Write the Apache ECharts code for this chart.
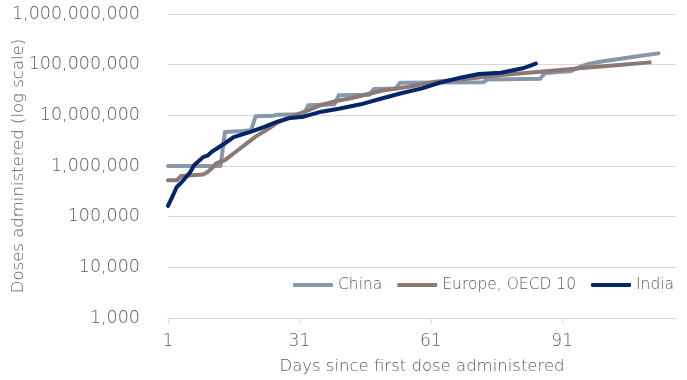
<!DOCTYPE html>
<html>
<head>
<meta charset="utf-8">
<script src="https://cdn.jsdelivr.net/npm/echarts@6/dist/echarts.min.js"></script>
<style>
  html, body { margin: 0; padding: 0; background: #ffffff; }
  #chart { width: 687px; height: 380px; }
</style>
</head>
<body>
<div id="chart"></div>
<script>
// Cumulative vaccine doses administered, by days since first dose
const seriesNames = ['China', 'Europe, OECD 10', 'India'];

const chinaDays  = [1, 13, 14, 18, 20, 21, 25, 26, 32, 33, 39, 40, 47, 48, 53, 54, 73, 74, 86, 87, 90, 93, 95, 97, 100, 104, 109, 113];
const chinaDoses = [1.0e6, 1.0e6, 4.7e6, 4.9e6, 5.1e6, 9.6e6, 9.8e6, 10.3e6, 10.5e6, 15.8e6, 16.5e6, 25e6, 25.5e6, 33e6, 34e6, 44e6, 45e6, 51e6, 53e6, 68e6, 72e6, 74e6, 90e6, 103e6, 115e6, 129e6, 150e6, 167e6];

const europeDays  = [1, 3, 4, 9, 10, 11, 12, 14, 17, 19, 21, 24, 26, 29, 33, 36, 40, 43, 50, 56, 59, 62, 68, 77, 86, 95, 104, 111];
const europeDoses = [522e3, 522e3, 636e3, 680e3, 750e3, 900e3, 1.13e6, 1.31e6, 2.07e6, 2.8e6, 3.8e6, 5.5e6, 7.2e6, 9.3e6, 12.5e6, 16e6, 19.6e6, 22e6, 31e6, 36.7e6, 41e6, 46e6, 51e6, 62.5e6, 72.8e6, 84.7e6, 98e6, 111e6];

const indiaDays  = [1, 2, 3, 4, 6, 7, 9, 10, 11, 12, 14, 16, 18, 20, 23, 26, 29, 32, 36, 40, 45, 50, 54, 59, 63, 68, 72, 77, 82, 85];
const indiaDoses = [163e3, 248e3, 385e3, 468e3, 738e3, 1.05e6, 1.49e6, 1.6e6, 1.91e6, 2.17e6, 2.81e6, 3.7e6, 4.2e6, 4.75e6, 5.9e6, 7.5e6, 8.9e6, 9.4e6, 11.8e6, 13.5e6, 16.5e6, 21.7e6, 27e6, 34e6, 44e6, 56e6, 65.5e6, 69.5e6, 84.7e6, 105e6];

const xTickDays = [1, 31, 61, 91];
const yTickValues = [1e3, 1e4, 1e5, 1e6, 1e7, 1e8, 1e9];

const zip = (xs, ys) => xs.map((x, i) => [x, ys[i]]);
const withCommas = v => String(Math.round(v)).replace(/\B(?=(\d{3})+(?!\d))/g, ',');

const FONT = 'DejaVu Sans';
const WEIGHT = 200;
const TEXT = '#595959';
const GRID = '#D9D9D9';

const lineSeries = (name, data, color) => ({
  name: name,
  type: 'line',
  data: data,
  showSymbol: false,
  symbol: 'none',
  animation: false,
  lineStyle: { color: color, width: 4, cap: 'round', join: 'round' },
  itemStyle: { color: color }
});

const chart = echarts.init(document.getElementById('chart'));
chart.setOption({
  backgroundColor: '#ffffff',
  animation: false,
  textStyle: { fontFamily: FONT, fontWeight: WEIGHT, color: TEXT },
  grid: { left: 168, right: 11, top: 14, bottom: 62, containLabel: false, outerBoundsMode: 'none' },
  legend: {
    data: seriesNames,
    left: 293,
    top: 277,
    padding: 0,
    icon: 'roundRect',
    itemWidth: 40,
    itemHeight: 4,
    itemGap: 15,
    textStyle: { fontFamily: FONT, fontWeight: WEIGHT, fontSize: 15.5, color: TEXT }
  },
  xAxis: {
    type: 'value',
    min: 1,
    max: 117,
    name: 'Days since first dose administered',
    nameLocation: 'middle',
    nameGap: 40,
    nameMoveOverlap: false,
    nameTextStyle: { fontFamily: FONT, fontWeight: WEIGHT, fontSize: 16.5, color: TEXT },
    axisLine: { show: true, lineStyle: { color: GRID, width: 1 } },
    axisTick: { show: true, length: 5, lineStyle: { color: GRID }, customValues: xTickDays },
    axisLabel: { customValues: xTickDays, margin: 15, fontFamily: FONT, fontWeight: WEIGHT, fontSize: 17, color: TEXT },
    splitLine: { show: false }
  },
  yAxis: {
    type: 'log',
    logBase: 10,
    min: yTickValues[0],
    max: yTickValues[yTickValues.length - 1],
    name: 'Doses administered (log scale)',
    nameLocation: 'middle',
    nameGap: 141,
    nameMoveOverlap: false,
    nameTextStyle: { fontFamily: FONT, fontWeight: WEIGHT, fontSize: 16.5, color: TEXT },
    axisLine: { show: false },
    axisTick: { show: false },
    axisLabel: { margin: 28, fontFamily: FONT, fontWeight: WEIGHT, fontSize: 17.5, color: TEXT, formatter: withCommas },
    splitLine: { show: true, lineStyle: { color: GRID, width: 1 } }
  },
  series: [
    lineSeries(seriesNames[0], zip(chinaDays, chinaDoses), '#8796AA'),
    lineSeries(seriesNames[1], zip(europeDays, europeDoses), '#8B7A73'),
    lineSeries(seriesNames[2], zip(indiaDays, indiaDoses), '#05256A')
  ]
});
</script>
</body>
</html>
